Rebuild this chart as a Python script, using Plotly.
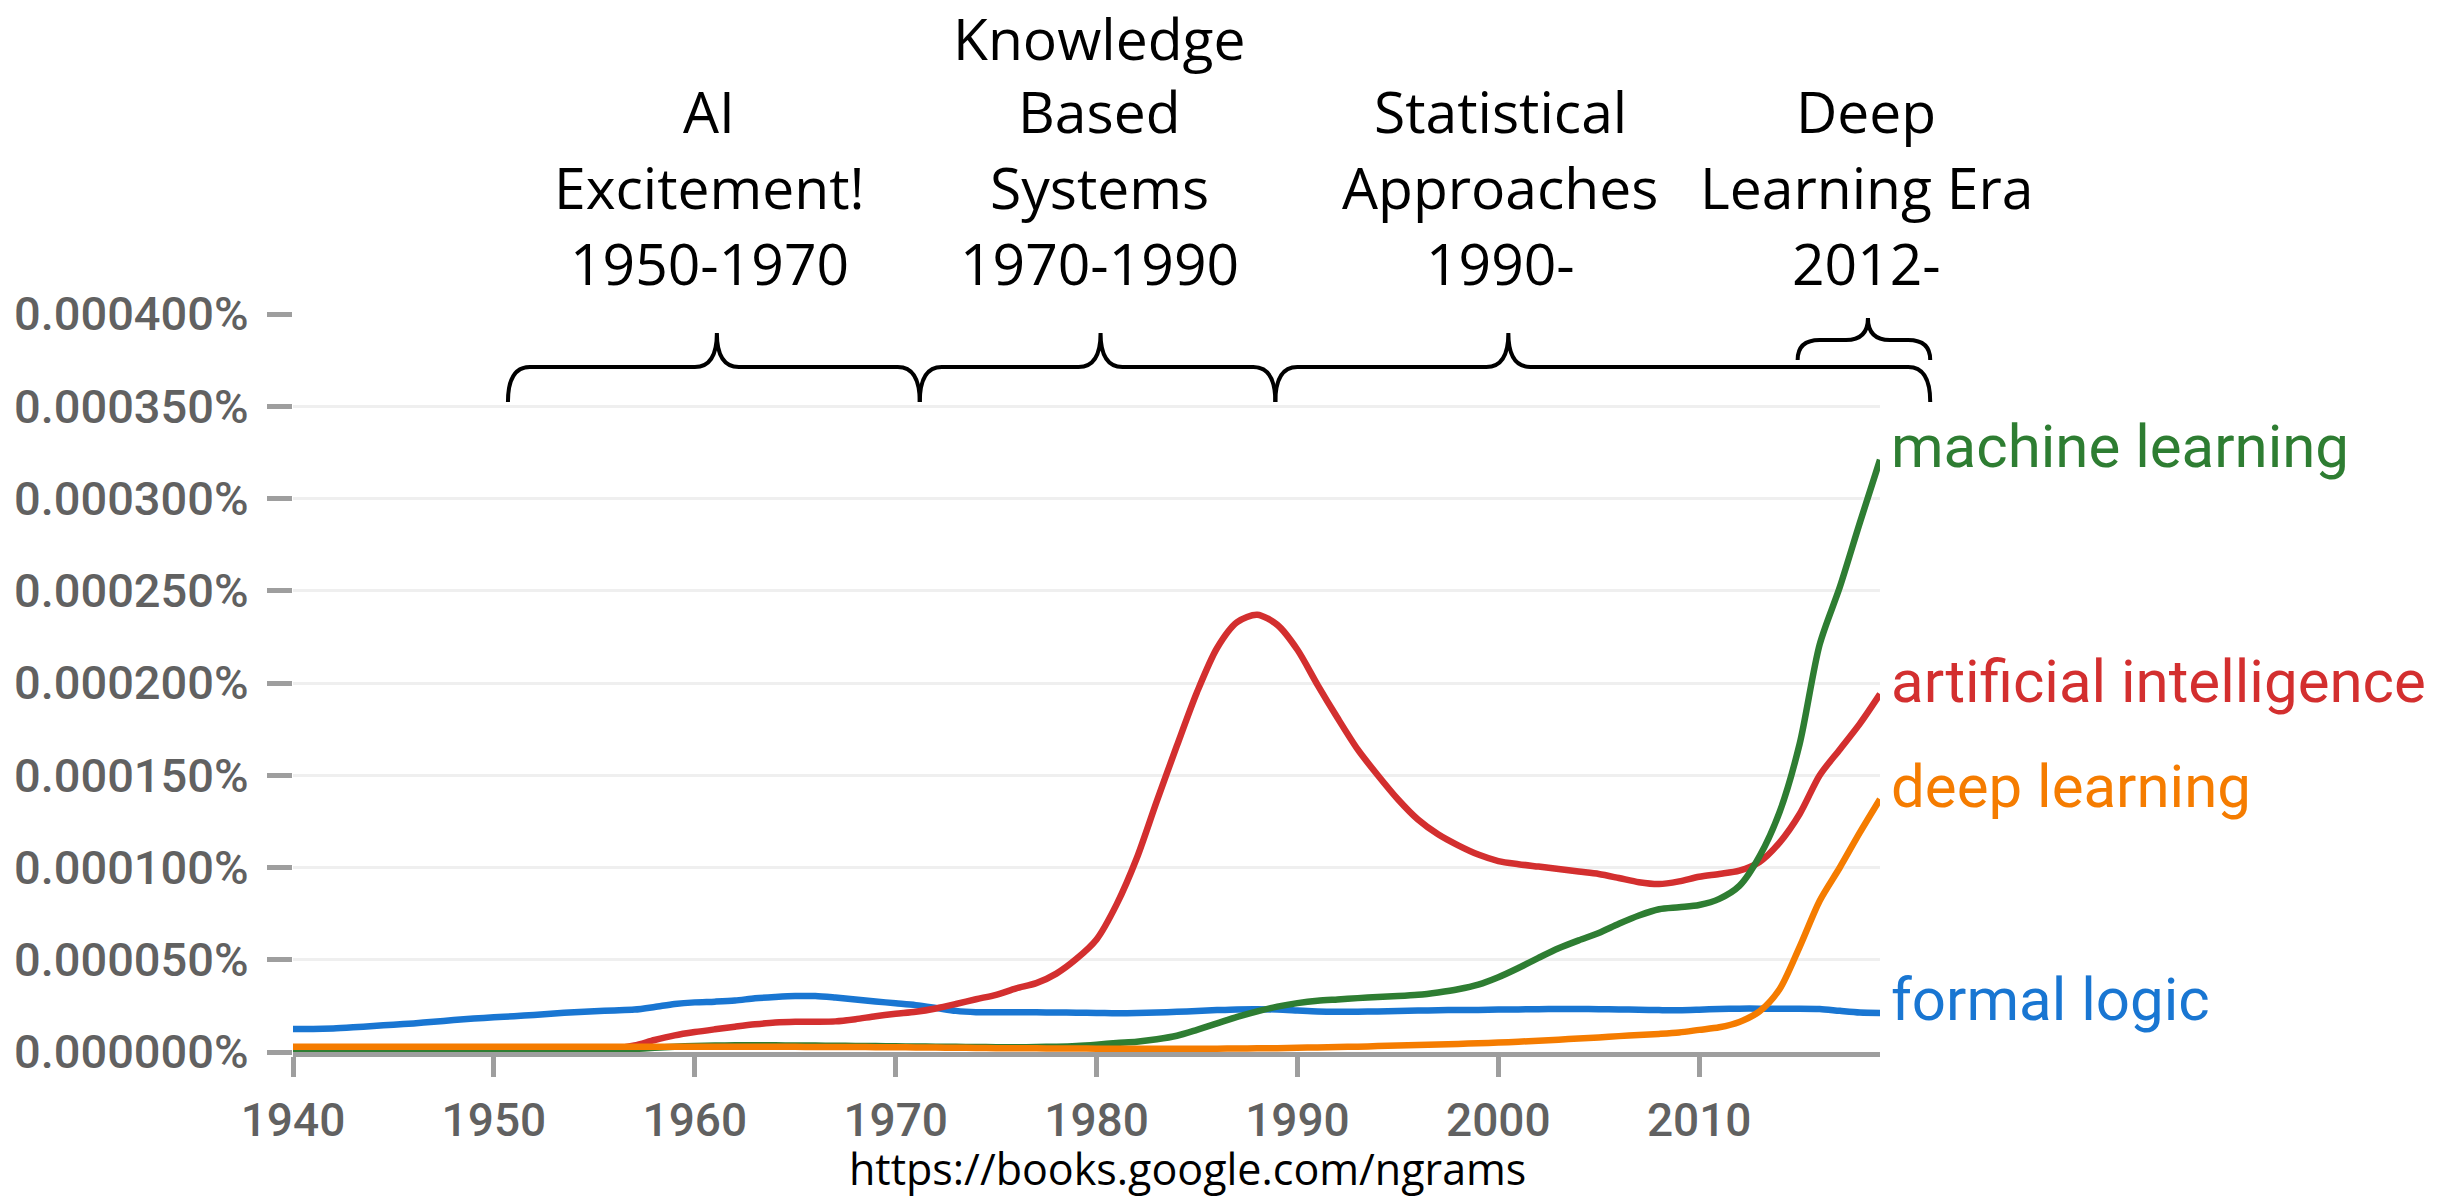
import plotly.graph_objects as go

# ---------------- data (values in millionths of a percent, i.e. 1e-6 %) ----------------
years = list(range(1940, 2020))

formal_logic = [
    12.5, 12.5, 12.8, 13.4, 14.1, 14.8, 15.5, 16.4, 17.3, 18.1,
    18.8, 19.4, 20.1, 20.9, 21.5, 22.1, 22.5, 23.0, 24.4, 26.0,
    26.9, 27.3, 27.9, 29.1, 29.8, 30.3, 30.3, 29.5, 28.5, 27.4,
    26.4, 25.4, 23.9, 22.3, 21.6, 21.5, 21.5, 21.5, 21.4, 21.3,
    21.2, 21.0, 21.1, 21.4, 21.8, 22.2, 22.7, 23.1, 23.2, 23.0,
    22.5, 22.0, 21.8, 21.8, 22.0, 22.2, 22.5, 22.6, 22.8, 22.8,
    23.0, 23.1, 23.2, 23.3, 23.3, 23.2, 23.1, 22.9, 22.7, 22.6,
    22.9, 23.3, 23.5, 23.5, 23.4, 23.5, 23.3, 22.3, 21.4, 21.2,
]

artificial_intelligence = [
    1.0, 1.0, 1.0, 1.0, 1.0, 1.0, 1.0, 1.0, 1.0, 1.0,
    1.0, 1.0, 1.0, 1.0, 1.0, 1.2, 1.8, 3.5, 6.5, 9.0,
    10.8, 12.3, 13.7, 15.0, 16.0, 16.4, 16.4, 16.6, 17.8, 19.4,
    20.7, 21.8, 23.6, 26.0, 28.6, 31.0, 34.5, 37.3, 42.5, 50.5,
    61.0, 80.0, 105.0, 136.0, 166.0, 195.0, 219.0, 233.0, 237.0, 231.5,
    218.0, 199.0, 181.0, 164.0, 150.0, 137.0, 126.0, 118.0, 112.0, 107.0,
    103.5, 101.8, 100.5, 99.2, 97.8, 96.5, 94.3, 92.0, 91.0, 92.5,
    95.0, 96.5, 98.3, 103.0, 113.5, 129.0, 150.0, 164.0, 178.0, 194.0,
]

machine_learning = [
    0.3, 0.3, 0.3, 0.3, 0.3, 0.3, 0.3, 0.3, 0.3, 0.3,
    0.3, 0.3, 0.3, 0.3, 0.4, 0.6, 1.0, 1.6, 2.3, 2.9,
    3.3, 3.5, 3.6, 3.6, 3.6, 3.5, 3.5, 3.4, 3.3, 3.2,
    3.1, 3.0, 2.9, 2.8, 2.7, 2.6, 2.6, 2.7, 2.9, 3.3,
    4.0, 4.9, 5.6, 6.9, 8.8, 12.0, 15.5, 19.0, 22.0, 24.6,
    26.5, 27.8, 28.5, 29.2, 29.8, 30.3, 31.0, 32.3, 34.0, 36.5,
    40.5, 45.5, 51.0, 56.2, 60.5, 64.5, 69.5, 74.0, 77.4, 78.5,
    79.7, 83.0, 90.0, 106.0, 130.0, 167.0, 221.0, 252.0, 287.0, 321.0,
]

deep_learning = [
    2.8, 2.8, 2.8, 2.8, 2.8, 2.8, 2.8, 2.8, 2.8, 2.8,
    2.8, 2.8, 2.8, 2.8, 2.8, 2.8, 2.8, 2.8, 2.8, 2.8,
    2.8, 2.8, 2.8, 2.8, 2.8, 2.8, 2.7, 2.7, 2.7, 2.6,
    2.6, 2.5, 2.4, 2.3, 2.2, 2.1, 2.0, 2.0, 1.9, 1.9,
    1.8, 1.8, 1.8, 1.8, 1.8, 1.8, 1.8, 1.9, 2.0, 2.1,
    2.3, 2.5, 2.7, 2.9, 3.2, 3.5, 3.8, 4.1, 4.4, 4.7,
    5.1, 5.6, 6.1, 6.7, 7.3, 7.9, 8.6, 9.2, 9.8, 10.6,
    12.0, 13.4, 16.3, 22.0, 34.0, 57.0, 82.0, 100.0, 119.0, 137.0,
]

series_names = ["formal logic", "artificial intelligence", "machine learning", "deep learning"]
series_values = [formal_logic, artificial_intelligence, machine_learning, deep_learning]
series_colors = ["#1976d2", "#d32f2f", "#2e7d32", "#f57c00"]

y_tick_values = [0.0, 0.00005, 0.0001, 0.00015, 0.0002, 0.00025, 0.0003, 0.00035, 0.0004]
y_tick_text = ["0.000000%", "0.000050%", "0.000100%", "0.000150%", "0.000200%",
               "0.000250%", "0.000300%", "0.000350%", "0.000400%"]
x_tick_values = [1940, 1950, 1960, 1970, 1980, 1990, 2000, 2010]

era_lines = [
    ["AI", "Excitement!", "1950-1970"],
    ["Knowledge", "Based", "Systems", "1970-1990"],
    ["Statistical", "Approaches", "1990-"],
    ["Deep", "Learning Era", "2012-"],
]
# braces: start year, end year, tip year
brace_start = [1950.7, 1971.2, 1988.9, 2014.9]
brace_end = [1971.2, 1988.9, 2021.5, 2021.5]
brace_tip = [1961.1, 1980.2, 2000.5, 2018.4]
source_text = "https://books.google.com/ngrams"

# ---------------- layout geometry ----------------
W, H = 2445, 1197
ML, MR, MT, MB = 293, 565, 314, 145
PW = W - ML - MR
PH = H - MT - MB
X0, X1 = 1940, 2019


def px_x(x):
    return (x - ML) / PW


def px_y(y):
    return (H - MB - y) / PH


def year_px(yr):
    return ML + (yr - X0) / (X1 - X0) * PW


fig = go.Figure()
for name, vals, color in zip(series_names, series_values, series_colors):
    fig.add_trace(go.Scatter(
        x=years, y=[v * 1e-6 for v in vals], mode="lines", name=name,
        line=dict(color=color, width=6.5, shape="spline", smoothing=0.8),
        hoverinfo="skip", showlegend=False,
    ))

annotations = []
# series labels at right
for name, vals, color in zip(series_names, series_values, series_colors):
    annotations.append(dict(
        x=1.0, xref="paper", y=vals[-1] * 1e-6, yref="y", text=name,
        showarrow=False, xanchor="left", yanchor="middle", xshift=9, yshift=13,
        font=dict(family="Roboto", size=60, color=color),
    ))

# era labels
row_y = [38, 111, 187, 263]
era_center_px = [709, 1099, 1500, 1866]
for i, lines in enumerate(era_lines):
    n = len(lines)
    for j, t in enumerate(lines):
        r = 4 - n + j
        annotations.append(dict(
            x=px_x(era_center_px[i]), xref="paper", y=px_y(row_y[r]), yref="paper",
            text=t, showarrow=False, xanchor="center", yanchor="middle",
            font=dict(family="Open Sans", size=57, color="black"),
        ))

annotations.append(dict(
    x=px_x(847), xref="paper", y=px_y(1168), yref="paper", text=source_text,
    showarrow=False, xanchor="left", yanchor="middle",
    font=dict(family="Open Sans", size=43, color="black"),
))

# braces
shapes = []
for k in range(len(brace_start)):
    x0 = year_px(brace_start[k])
    x1 = year_px(brace_end[k])
    xt = year_px(brace_tip[k])
    if k < 3:
        yb, ym, yt = 402, 367, 333
    else:
        yb, ym, yt = 360, 340, 318
    r, tr = 22, 22
    pts = [
        ("M", [(x0, yb)]),
        ("Q", [(x0, ym), (x0 + r, ym)]),
        ("L", [(xt - tr, ym)]),
        ("Q", [(xt, ym), (xt, yt)]),
        ("Q", [(xt, ym), (xt + tr, ym)]),
        ("L", [(x1 - r, ym)]),
        ("Q", [(x1, ym), (x1, yb)]),
    ]
    path = " ".join(
        cmd + " " + " ".join(f"{px_x(a):.5f},{px_y(b):.5f}" for a, b in p) for cmd, p in pts
    )
    shapes.append(dict(type="path", xref="paper", yref="paper", path=path,
                       line=dict(color="black", width=4)))

fig.update_layout(
    width=W, height=H,
    margin=dict(l=ML, r=MR, t=MT, b=MB, pad=0),
    paper_bgcolor="white", plot_bgcolor="white",
    annotations=annotations, shapes=shapes,
    xaxis=dict(
        range=[X0, X1], tickvals=x_tick_values, ticks="outside", ticklen=20,
        tickwidth=5, tickcolor="#9e9e9e", showline=True, linewidth=5,
        linecolor="#9e9e9e", showgrid=False, zeroline=False,
        ticklabelstandoff=4,
        tickfont=dict(family="Roboto", size=46, color="#616161", weight=500),
    ),
    yaxis=dict(
        range=[0, 0.0004], tickvals=y_tick_values, ticktext=y_tick_text,
        ticks="outside", ticklen=25, tickwidth=5, tickcolor="#9e9e9e",
        showgrid=True, gridcolor="#efefef", gridwidth=3, zeroline=False,
        showline=False, ticklabelstandoff=9,
        tickfont=dict(family="Roboto", size=47, color="#616161", weight=500),
    ),
)

fig.write_html("out.html", config={"displayModeBar": False},
               post_script="document.body.style.margin='0px';")
